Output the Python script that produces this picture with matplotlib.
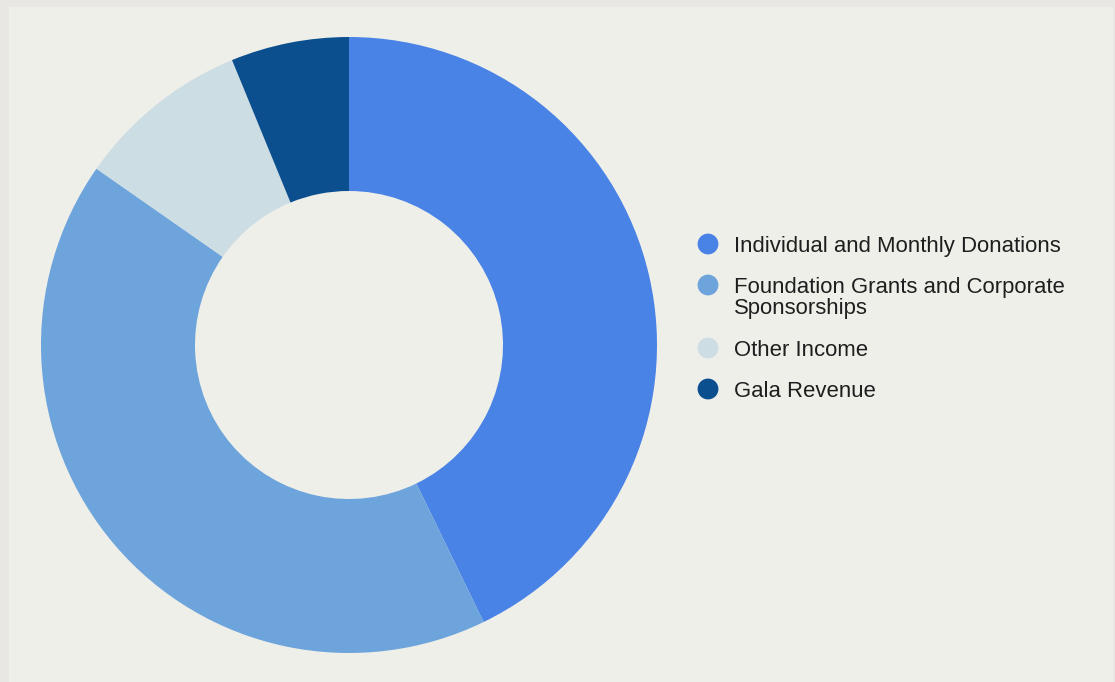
import matplotlib.pyplot as plt

# revenue mix (percent)
labels = ["Individual and Monthly Donations",
          "Foundation Grants and Corporate\nSponsorships",
          "Other Income",
          "Gala Revenue"]
values = [42.8, 41.9, 9.1, 6.2]
colors = ["#4a83e6", "#6da4dc", "#cddde4", "#0b4f8f"]

plt.rcParams['font.family'] = ['Liberation Sans', 'DejaVu Sans']

W, H = 1115, 682
fig = plt.figure(figsize=(W / 100, H / 100), dpi=100, facecolor="#e9e7e3")

# inner panel, also used for the legend (pixel coordinates, y down)
bg = fig.add_axes([0, 0, 1, 1])
bg.set_xlim(0, W)
bg.set_ylim(H, 0)
bg.axis("off")
bg.add_patch(plt.Rectangle((9, 7), W - 12, H - 7, color="#efefea", zorder=0))

cx, cy, r = 349, 345, 308
ax = fig.add_axes([(cx - r) / W, (H - cy - r) / H, 2 * r / W, 2 * r / H])
ax.set_facecolor("none")
ax.pie(values, colors=colors, startangle=90, counterclock=False, radius=1,
       wedgeprops=dict(width=0.5, linewidth=0))
ax.set_xlim(-1, 1)
ax.set_ylim(-1, 1)
ax.set_aspect("equal")
ax.axis("off")

# legend: dot aligned with the first line of each label
y = 244
for lab, c in zip(labels, colors):
    bg.scatter([708], [y], s=15 ** 2, color=c, edgecolors="none", zorder=3)
    bg.text(734, y - 8, lab, fontsize=15.9, color="#1e1e1e", va="top",
            ha="left", linespacing=1.0, zorder=3)
    y += 41 + 22 * lab.count("\n")

fig.savefig("out.png", dpi=100, facecolor=fig.get_facecolor())
